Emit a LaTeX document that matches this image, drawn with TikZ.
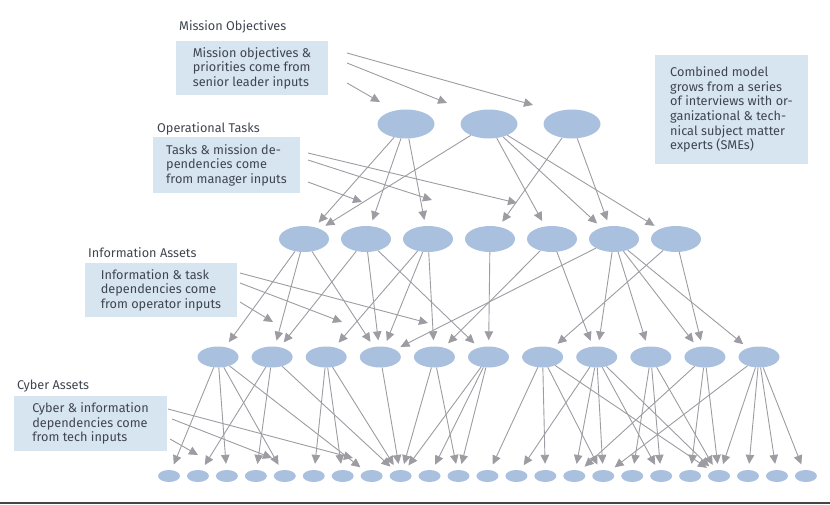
\documentclass[tikz,border=0pt]{standalone}
\usepackage{fontspec}
\setmainfont{Fira Sans}
\usetikzlibrary{arrows.meta, positioning, shapes.geometric}
\definecolor{nodeblue}{HTML}{A9C0DE}
\definecolor{boxblue}{HTML}{D7E5F1}
\definecolor{wiregray}{HTML}{9C9CA2}
\definecolor{inkgray}{HTML}{3F4550}
\definecolor{edgebar}{HTML}{454545}

\begin{document}
\begin{tikzpicture}[x=1pt, y=-1pt, font=\fontsize{12.7}{14.6}\selectfont, >={Triangle[length=9pt, width=8.5pt]},
  blob/.style={ellipse, fill=nodeblue, inner sep=0pt},
  note/.style={fill=boxblue, text=inkgray, align=left, inner sep=0pt, minimum width=152pt},
  head/.style={anchor=west, inner sep=0pt, text=inkgray},
  link/.style={->, wiregray, line width=0.9pt, shorten >=6pt},
  feed/.style={->, wiregray, line width=0.9pt}]
  \useasboundingbox (0,0) rectangle (830,504);
  \fill[edgebar] (0,502) rectangle (830,504);

  % the four layers
  \foreach \x [count=\k] in {406,489,572}
    \node[blob, minimum width=57pt, minimum height=29pt] (m\k) at (\x,124) {};
  \foreach \k in {1,...,7}
    \node[blob, minimum width=50pt, minimum height=26pt] (t\k) at ({304+62*(\k-1)},239) {};
  \foreach \k in {1,...,11}
    \node[blob, minimum width=41pt, minimum height=21pt] (i\k) at ({218+54.1*(\k-1)},357) {};
  \foreach \k in {1,...,23}
    \node[blob, minimum width=22pt, minimum height=12pt] (c\k) at ({169+28.95*(\k-1)},476) {};

  % headings and notes
  \node[head] (hmission) at (179,27) {Mission Objectives};
  \node[note, minimum height=54pt] (boxmission) at (252,68)
    {Mission objectives \&\\ priorities come from\\ senior leader inputs};
  \node[head] (htasks) at (157,129) {Operational Tasks};
  \node[note, minimum height=56pt, minimum width=147pt] (boxtasks) at (226.5,165)
    {Tasks \& mission de-\\ pendencies come\\ from manager inputs};
  \node[head] (hinfo) at (88,253) {Information Assets};
  \node[note, minimum height=54pt] (boxinfo) at (161,290)
    {Information \& task\\ dependencies come\\ from operator inputs};
  \node[head] (hcyber) at (17,386) {Cyber Assets};
  \node[note, minimum height=55pt, minimum width=153pt] (boxcyber) at (90.5,423.5)
    {Cyber \& information\\ dependencies come\\ from tech inputs};
  \node[note, minimum height=109pt, minimum width=153pt] (boxsme) at (731.5,109.5)
    {Combined model\\ grows from a series\\ of interviews with or-\\ ganizational \& tech-\\ nical subject matter\\ experts (SMEs)};

  % inputs from the notes
  \foreach \n/\sx/\sy/\ex/\ey in {1/347/53/533/105, 2/347/63/447/103, 3/347/83/380/102,
      4/308/153/517/203, 5/308/160/432/200, 6/308/182/362/202,
      7/240/273/428/323, 8/240/283/342/322, 9/240/302/273/322,
      10/168/409/353/458, 11/172/419/272/458, 12/170/439/198/455}{
    \coordinate (fs\n) at (\sx,\sy);
    \coordinate (fe\n) at (\ex,\ey);
    \draw[feed] (fs\n) -- (fe\n);
  }

  % dependencies
  \foreach \a/\b in {m1/t1, m1/t2, m1/t3, m2/t1, m2/t5, m2/t6, m2/t7, m3/t4, m3/t6}
    \draw[link] (\a) -- (\b);
  \foreach \a/\b in {t1/i1, t1/i2, t1/i4, t2/i2, t2/i4, t2/i6, t3/i3, t3/i4, t3/i5, t4/i6,
      t5/i5, t5/i8, t6/i4, t6/i8, t6/i9, t6/i10, t6/i11, t7/i7, t7/i10}
    \draw[link] (\a) -- (\b);
  \foreach \a/\b in {i1/c1, i1/c3, i1/c5, i1/c8, i2/c2, i2/c4, i2/c9, i3/c6, i3/c7, i3/c9,
      i4/c9, i5/c9, i5/c11, i6/c9, i6/c10, i6/c11, i7/c12, i7/c14, i7/c16, i7/c20,
      i8/c13, i8/c15, i8/c16, i8/c18, i8/c20, i9/c17, i9/c18, i9/c20, i10/c15, i10/c19,
      i10/c20, i11/c16, i11/c20, i11/c21, i11/c22, i11/c23}
    \draw[link] (\a) -- (\b);
\end{tikzpicture}
\end{document}
